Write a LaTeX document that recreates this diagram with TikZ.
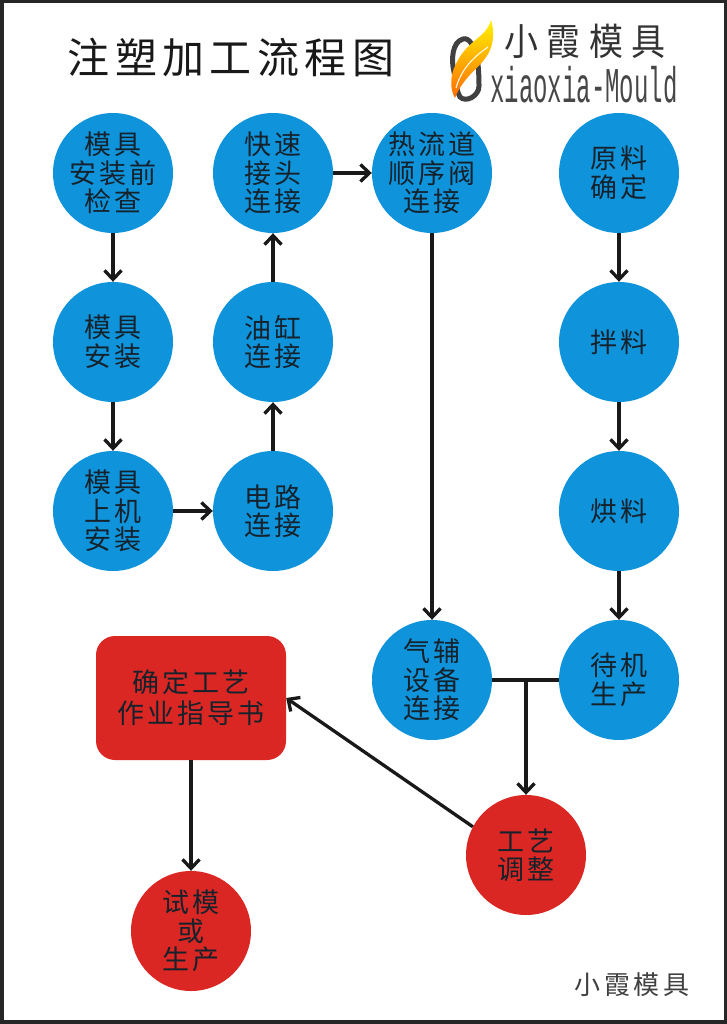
\documentclass[tikz,border=0pt]{standalone}
\usepackage{fontspec}
\usetikzlibrary{arrows.meta}
\newfontfamily\cjk[LetterSpace=12]{Noto Sans CJK SC}
\newfontfamily\cjktitle[LetterSpace=13]{Noto Sans CJK SC}
\newfontfamily\cjklogo[LetterSpace=24]{Noto Sans CJK SC}
\newfontfamily\cjkfoot[LetterSpace=14]{Noto Sans CJK SC}
\setmonofont{Liberation Mono}
\definecolor{cblue}{HTML}{0F94DB}
\definecolor{cred}{HTML}{DB2723}
\definecolor{ctext}{HTML}{15222C}
\tikzset{
  x=1pt,y=-1pt,
  cbase/.style={circle,minimum size=120pt,inner sep=0pt,align=center,text=ctext,
    font=\cjk\fontsize{27}{28.5}\selectfont},
  bluenode/.style={cbase,fill=cblue},
  rednode/.style={cbase,fill=cred},
  redbox/.style={rectangle,rounded corners=19pt,fill=cred,minimum width=190pt,minimum height=124pt,
    inner sep=0pt,align=center,text=ctext,font=\cjk\fontsize{27}{31}\selectfont},
  arr/.style={line width=3.3pt,draw=black!90,-{Straight Barb[length=9pt,width=17pt,line width=3.3pt]}},
  plainline/.style={line width=3.3pt,draw=black!90},
}
\begin{document}
\begin{tikzpicture}
\useasboundingbox (0,0) rectangle (727,1024);
\fill[white] (0,0) rectangle (727,1024);
\draw[line width=4pt,draw=black!85] (1.5,1.5) rectangle (725.5,1022);

% title
\node[anchor=center,text=black!90,font=\cjktitle\fontsize{42}{42}\selectfont] (title) at (231,57) {注塑加工流程图};

% logo
\draw[line width=5pt,draw=black!75] (463,39) .. controls (452,42) and (451,60) .. (454,72)
   .. controls (456,84) and (457,92) .. (460,97)
   .. controls (466,103) and (479,96) .. (479,86)
   .. controls (479,72) and (478,50) .. (471,43)
   .. controls (469,40) and (466,38) .. (463,39) -- cycle;
\shade[top color=yellow!90!orange,bottom color=orange!85!red]
   (491,20) .. controls (495,32) and (493,46) .. (488,54)
   .. controls (482,64) and (474,70) .. (468,77)
   .. controls (462,84) and (458,90) .. (455,98)
   .. controls (449,88) and (451,74) .. (455,66)
   .. controls (460,54) and (468,46) .. (478,38)
   .. controls (484,33) and (489,28) .. (491,20) -- cycle;
\draw[white,line width=1pt] (488,47) .. controls (478,54) and (462,66) .. (456,88);
\node[text=black!80,font=\cjklogo\fontsize{34}{34}\selectfont,yscale=1.1,transform shape] (logocn) at (585,41) {小霞模具};
\node[text=black!72,font=\ttfamily\fontsize{50}{50}\selectfont,xscale=0.48,transform shape] (logoen) at (584,85) {xiaoxia-Mould};
\node[text=black!75,font=\cjkfoot\fontsize{26}{26}\selectfont] (foot) at (632,985) {小霞模具};

% nodes
\node[bluenode] (n1) at (113,173) {模具\\安装前\\检查};
\node[bluenode] (n2) at (113,342) {模具\\安装};
\node[bluenode] (n3) at (113,511) {模具\\上机\\安装};
\node[bluenode] (n4) at (273,511) {电路\\连接};
\node[bluenode] (n5) at (273,342) {油缸\\连接};
\node[bluenode] (n6) at (273,173) {快速\\接头\\连接};
\node[bluenode] (n7) at (432,173) {热流道\\顺序阀\\连接};
\node[bluenode] (n8) at (432,680) {气辅\\设备\\连接};
\node[bluenode] (m1) at (619,173) {原料\\确定};
\node[bluenode] (m2) at (619,342) {拌料};
\node[bluenode] (m3) at (619,511) {烘料};
\node[bluenode] (m4) at (619,680) {待机\\生产};
\node[rednode] (adj) at (526,855) {工艺\\调整};
\node[rednode] (trial) at (191,931) {试模\\或\\生产};
\node[redbox] (book) at (191,698) {确定工艺\\作业指导书};
\coordinate (junc) at (526,680);

% connectors
\draw[arr] (n1) -- (n2);
\draw[arr] (n2) -- (n3);
\draw[arr] (n3) -- (n4);
\draw[arr] (n4) -- (n5);
\draw[arr] (n5) -- (n6);
\draw[arr] (n6) -- (n7);
\draw[arr] (n7) -- (n8);
\draw[arr] (m1) -- (m2);
\draw[arr] (m2) -- (m3);
\draw[arr] (m3) -- (m4);
\draw[plainline] (n8) -- (m4);
\draw[arr] (junc) -- (adj);
\draw[arr] (adj.152) -- (book.east);
\draw[arr] (book) -- (trial);
\end{tikzpicture}
\end{document}
